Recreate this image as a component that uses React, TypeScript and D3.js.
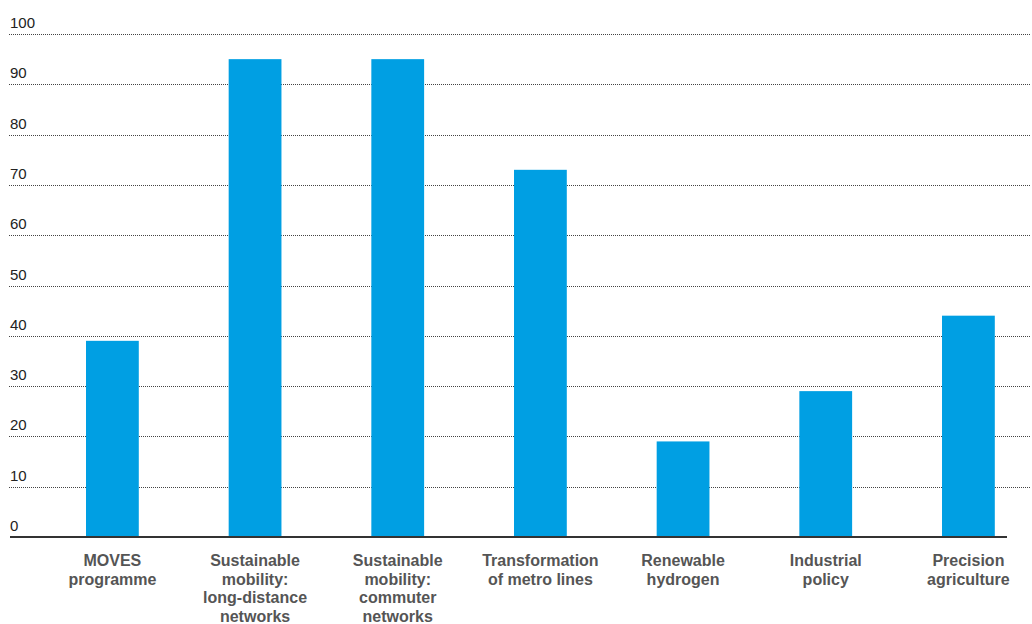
import React from "react";
import * as d3 from "d3";

const categories: string[][] = [
  ["MOVES", "programme"],
  ["Sustainable", "mobility:", "long-distance", "networks"],
  ["Sustainable", "mobility:", "commuter", "networks"],
  ["Transformation", "of metro lines"],
  ["Renewable", "hydrogen"],
  ["Industrial", "policy"],
  ["Precision", "agriculture"],
];
const values: number[] = [39, 95, 95, 73, 19, 29, 44];
const yTicks: number[] = [0, 10, 20, 30, 40, 50, 60, 70, 80, 90, 100];

const W = 1032;
const H = 624;
const BAR = "#009fe3";

export default function App() {
  const y = d3.scaleLinear().domain([0, 100]).range([537, 34]);
  const x = d3
    .scaleBand<number>()
    .domain(d3.range(values.length))
    .range([43.2, 1037.6])
    .paddingInner(0.63)
    .paddingOuter(0.3);

  return (
    <svg
      width={W}
      height={H}
      style={{ position: "absolute", left: 0, top: 0, display: "block" }}
      fontFamily="'Liberation Sans', Arial, sans-serif"
    >
      {/* horizontal dotted gridlines and tick labels */}
      {yTicks.map((t) => (
        <g key={t}>
          {t > 0 && (
            <line
              x1={9}
              x2={1030}
              y1={Math.round(y(t)) + 0.5}
              y2={Math.round(y(t)) + 0.5}
              stroke="#444"
              strokeWidth={1}
              strokeDasharray="1,1"
            />
          )}
          <text x={10} y={y(t) - 6} fontSize={15} fill="#222">
            {t}
          </text>
        </g>
      ))}

      {/* bars */}
      {values.map((v, i) => (
        <rect
          key={i}
          x={x(i)}
          y={y(v)}
          width={x.bandwidth()}
          height={y(0) - y(v)}
          fill={BAR}
        />
      ))}

      {/* baseline */}
      <line x1={10} x2={1007} y1={y(0)} y2={y(0)} stroke="#333" strokeWidth={2} />

      {/* category labels */}
      {categories.map((lines, i) => (
        <text
          key={i}
          x={(x(i) ?? 0) + x.bandwidth() / 2}
          y={566}
          textAnchor="middle"
          fontSize={16}
          fontWeight="bold"
          fill="#555"
        >
          {lines.map((l, j) => (
            <tspan key={j} x={(x(i) ?? 0) + x.bandwidth() / 2} dy={j === 0 ? 0 : 18.5}>
              {l}
            </tspan>
          ))}
        </text>
      ))}
    </svg>
  );
}
